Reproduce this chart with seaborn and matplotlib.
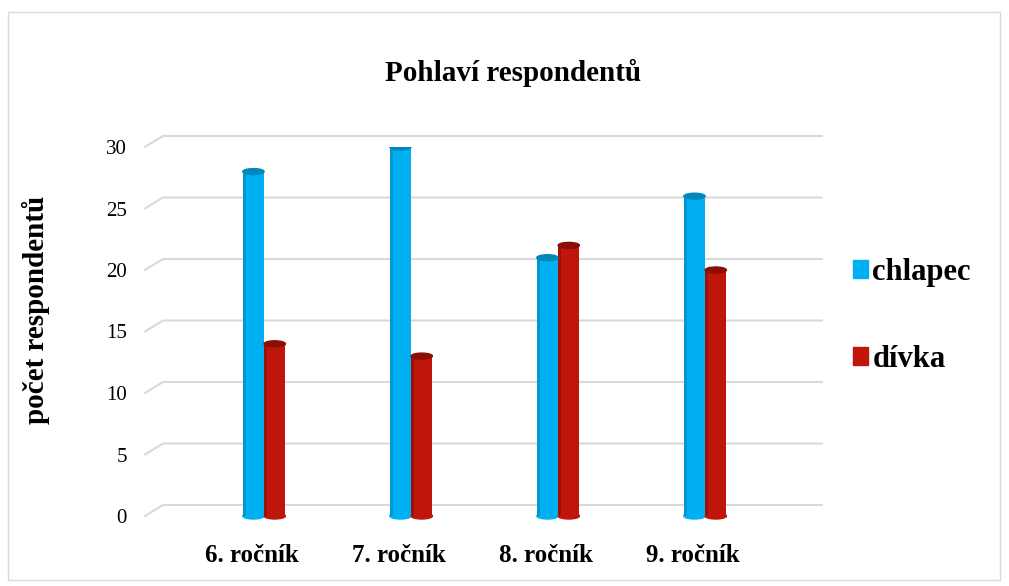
import numpy as np
import pandas as pd
import matplotlib.pyplot as plt
import matplotlib.patches as mpatches
import matplotlib.transforms as mtransforms
import seaborn as sns

# ── Data ─────────────────────────────────────────────────────
rocniky = ['6. ročník', '7. ročník', '8. ročník', '9. ročník']
chlapec = [28, 30, 21, 26]
divka = [14, 13, 22, 20]
pohlavi = ['chlapec', 'dívka']
barvy = ['#00b0f0', '#c0150a']
tmave = ['#0088bb', '#8a0e06']
y_ticks = [0, 5, 10, 15, 20, 25, 30]

df = pd.DataFrame({
    'rocnik': rocniky * 2,
    'pocet': chlapec + divka,
    'pohlavi': ['chlapec'] * len(rocniky) + ['dívka'] * len(rocniky),
})

sns.set_style('white')
plt.rcParams['font.family'] = ['Liberation Serif', 'DejaVu Serif']
plt.rcParams['text.color'] = 'black'
plt.rcParams['xtick.color'] = 'black'
plt.rcParams['ytick.color'] = 'black'
plt.rcParams['axes.labelcolor'] = 'black'

fig = plt.figure(figsize=(10.09, 5.86), dpi=100)
ax = fig.add_axes([145 / 1009, 1 - 516 / 586, 677 / 1009, (516 - 147) / 586])

sns.barplot(data=df, x='rocnik', y='pocet', hue='pohlavi', palette=barvy,
            saturation=1, width=0.29, gap=0, linewidth=0, ax=ax,
            legend=False, zorder=3)

# cylinder caps + a little shading on the left side
ax_h_px = 369
cap_h = 6 / ax_h_px * 30
for patch, c in zip(ax.patches[:], [tmave[0]] * 4 + [tmave[1]] * 4):
    x0, w, h = patch.get_x(), patch.get_width(), patch.get_height()
    ax.add_patch(mpatches.Rectangle((x0, 0), w * 0.15, h, color=c, alpha=0.6,
                                    lw=0, zorder=3.5))
    ax.add_patch(mpatches.Ellipse((x0 + w / 2, h), w, cap_h, color=c, zorder=4))
    ax.add_patch(mpatches.Ellipse((x0 + w / 2, 0), w, cap_h,
                                  color=patch.get_facecolor(), zorder=2.9, clip_on=False))

ax.set_xlim(-0.81, 3.795)
ax.set_ylim(0, 30)
ax.set_yticks(y_ticks)
ax.set_yticklabels([str(v) for v in y_ticks], fontsize=15)
ax.set_xticks(range(len(rocniky)))
ax.set_xticklabels(rocniky, fontsize=18, fontweight='bold')
ax.tick_params(axis='both', length=0)
ax.tick_params(axis='y', pad=13)
ax.tick_params(axis='x', pad=20)
for lbl in ax.get_xticklabels():
    lbl.set_transform(lbl.get_transform() + mtransforms.ScaledTranslation(-0.12, 0, fig.dpi_scale_trans))
ax.set_xlabel('')
ax.set_ylabel('počet respondentů', fontsize=21, fontweight='bold')
ax.yaxis.set_label_coords((50 - 145) / 677, (516 - 310) / 369)
sns.despine(ax=ax, left=True, bottom=True)
ax.grid(False)

# perspective gridlines
blend = mtransforms.blended_transform_factory(ax.transAxes, ax.transData)
dy = 11 / ax_h_px * 30
for v in y_ticks:
    ax.plot([0, 18 / 677, 1], [v, v + dy, v + dy], transform=blend,
            color='#d9d9d9', lw=1.5, clip_on=False, zorder=1)

fig.text(0.508, 1 - 73 / 586, 'Pohlaví respondentů', ha='center', va='center',
         fontsize=21, fontweight='bold')

handles = [mpatches.Patch(color=c, label=l) for c, l in zip(barvy, pohlavi)]
fig.legend(handles=handles, loc='center left', bbox_to_anchor=(825 / 1009, 1 - 316 / 586),
           frameon=False, handlelength=0.5, handleheight=0.5, handletextpad=0.15,
           labelspacing=1.9, prop={'size': 22, 'weight': 'bold'})

fig.patches.append(mpatches.Rectangle((8 / 1009, 6 / 586), 992 / 1009, 568 / 586,
                                      transform=fig.transFigure, fill=False,
                                      edgecolor='#d9d9d9', lw=1))

plt.savefig('out.png', dpi=100)
